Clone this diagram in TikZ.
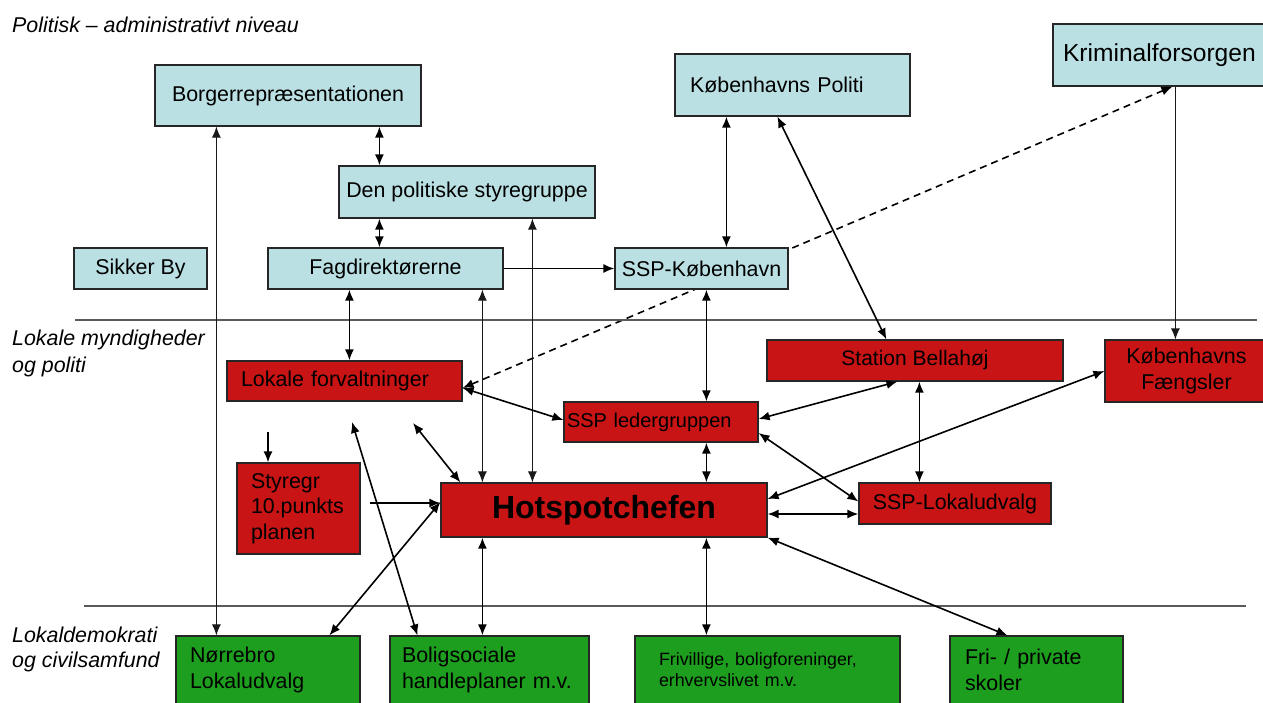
\documentclass[tikz,border=0pt]{standalone}
\usepackage{fontspec}
\setmainfont{Liberation Sans}
\usetikzlibrary{arrows.meta,backgrounds}
\definecolor{lblue}{RGB}{186,224,227}
\definecolor{rred}{RGB}{200,20,20}
\definecolor{ggreen}{RGB}{30,158,30}
\definecolor{sepgray}{RGB}{90,90,90}
\newcommand\fsn{\fontsize{21.4pt}{25.5pt}\selectfont}
\begin{document}
\begin{tikzpicture}[x=1pt,y=-1pt,
  >={Latex[length=11pt,width=9pt]},
  boxbase/.style={draw=black!85, line width=1.2pt, inner sep=0pt, font=\fsn, text=black},
  bbox/.style={boxbase, fill=lblue},
  rbox/.style={boxbase, fill=rred},
  gbox/.style={boxbase, fill=ggreen},
  conn/.style={line width=1.6pt},
  thinconn/.style={line width=1.1pt, draw=black!90},
  lbl/.style={inner sep=0pt, font=\fsn\itshape, align=left},
  sep/.style={line width=1.3pt, draw=sepgray}]
\useasboundingbox (0,0) rectangle (1263,702);

% separators
\draw[sep] (75,320) -- (1257,320);
\draw[sep] (84,606) -- (1246,606);

% labels
\node[lbl, anchor=west] (lab1) at (12,25) {Politisk – administrativt niveau};
\node[lbl, anchor=west, font=\fontsize{21.4pt}{27pt}\selectfont\itshape] (lab2) at (12,353.5) {Lokale myndigheder\\og politi};
\node[lbl, anchor=west] (lab3) at (12,649.5) {Lokaldemokrati\\og civilsamfund};

% blue boxes
\node[bbox, minimum width=266pt, minimum height=61pt] (borger) at (288,95.5) {Borgerrepræsentationen};
\node[bbox, minimum width=256pt, minimum height=52pt] (polstyr) at (467,192) {Den politiske styregruppe};
\node[bbox, minimum width=133pt, minimum height=41pt] (sikker) at (140.5,268.5) {Sikker By};
\node[bbox, minimum width=235pt, minimum height=41pt] (fagdir) at (385.5,268.5) {Fagdirektørerne};
\node[bbox, minimum width=173pt, minimum height=41pt] (sspkbh) at (701.5,268.5) {SSP-København};
\node[bbox, minimum width=235pt, minimum height=62pt, text width=205pt, inner xsep=15pt, align=left] (politi) at (792.5,85) {Københavns Politi};
\node[bbox, minimum width=222pt, minimum height=62pt, text width=202pt, inner xsep=10pt, align=left, font=\fontsize{24.6pt}{29pt}\selectfont] (krim) at (1164,55) {Kriminalforsorgen};

% red boxes
\node[rbox, minimum width=235pt, minimum height=40pt, text width=207pt, inner xsep=14pt, align=left] (lokforv) at (344.5,381) {Lokale forvaltninger};
\node[rbox, minimum width=194pt, minimum height=40pt, text width=188pt, inner xsep=3pt, align=left, font=\fontsize{20pt}{24pt}\selectfont] (sspled) at (661,422) {SSP ledergruppen};
\node[rbox, minimum width=296pt, minimum height=41pt, font=\fontsize{21pt}{25pt}\selectfont] (bella) at (915,360.5) {Station Bellahøj};
\node[rbox, minimum width=163pt, minimum height=62pt, align=center] (faeng) at (1186.5,371) {Københavns\\Fængsler};
\node[rbox, minimum width=192pt, minimum height=41pt] (sspludv) at (955,503.5) {SSP-Lokaludvalg};
\node[rbox, minimum width=326pt, minimum height=54pt, font=\fontsize{32pt}{38pt}\selectfont\bfseries] (hotspot) at (604,510) {Hotspotchefen};
\node[rbox, minimum width=123pt, minimum height=91pt, text width=95pt, inner xsep=14pt, align=left] (styregr) at (298.5,508.5) {Styregr\\10.punkts\\planen};

% green boxes
\node[gbox, minimum width=184pt, minimum height=68pt, text width=156pt, inner xsep=14pt, align=left] (noer) at (268,670) {Nørrebro\\Lokaludvalg};
\node[gbox, minimum width=199pt, minimum height=68pt, text width=175pt, inner xsep=12pt, align=left] (bolig) at (489.5,670) {Boligsociale\\handleplaner m.v.};
\node[gbox, minimum width=265pt, minimum height=68pt, text width=217pt, inner xsep=24pt, align=left, font=\fontsize{17.8pt}{21pt}\selectfont] (frivil) at (767.5,670) {Frivillige, boligforeninger,\\erhvervslivet m.v.};
\node[gbox, minimum width=173pt, minimum height=68pt, text width=143pt, inner xsep=15pt, align=left] (fri) at (1036.5,670) {Fri- / private\\skoler};

% dashed connector behind boxes
\begin{scope}[on background layer]
\draw[conn, dash pattern=on 7pt off 5pt, <->] ([yshift=-7pt]lokforv.east) -- ([xshift=120pt]krim.south west);
\end{scope}

% connectors
\draw[thinconn,<->] ([xshift=62pt]borger.south west) -- ([xshift=41pt]noer.north west);
\draw[conn,<->] ([xshift=225pt]borger.south west) -- ([xshift=41pt]polstyr.north west);
\draw[conn,<->] ([xshift=41pt]polstyr.south west) -- ([xshift=112pt]fagdir.north west);
\draw[conn,->] (fagdir.east) -- (sspkbh.west);
\draw[thinconn,<->] ([xshift=92pt]hotspot.north west) -- ([xshift=194pt]polstyr.south west);
\draw[thinconn,<->] ([xshift=215pt]fagdir.south west) -- ([xshift=42pt]hotspot.north west);
\draw[conn,<->] ([xshift=82pt]fagdir.south west) -- ([xshift=123pt]lokforv.north west);
\draw[conn,<->] ([xshift=52pt]politi.south west) -- ([xshift=112pt]sspkbh.north west);
\draw[conn,<->] ([xshift=103pt]politi.south west) -- ([xshift=120pt]bella.north west);
\draw[thinconn,->] ([xshift=123pt]krim.south west) -- ([xshift=71pt]faeng.north west);
\draw[conn,<->] ([xshift=92pt]sspkbh.south west) -- ([xshift=143pt]sspled.north west);
\draw[conn,<->] ([yshift=-7pt]lokforv.east) -- ([yshift=2pt]sspled.west);
\draw[conn,<->] ([yshift=3pt]sspled.east) -- ([xshift=131pt]bella.south west);
\draw[conn,<->] ([xshift=143pt]sspled.south west) -- ([xshift=266pt]hotspot.north west);
\draw[conn,<->] ([yshift=-11pt]sspled.east) -- ([yshift=2pt]sspludv.west);
\draw[conn,<->] ([xshift=153pt]bella.south west) -- ([xshift=61pt]sspludv.north west);
\draw[conn,<->] ([yshift=11pt]hotspot.east) -- (faeng.west);
\coordinate (h1) at ([yshift=-4pt]hotspot.east);
\draw[conn,<->] (h1) -- (h1 -| sspludv.west);
\draw[conn,<->] (hotspot.south east) -- ([xshift=58pt]fri.north west);
\draw[conn,<->] ([xshift=266pt]hotspot.south west) -- ([xshift=72pt]frivil.north west);
\draw[conn,<->] ([xshift=42pt]hotspot.south west) -- ([xshift=93pt]bolig.north west);
\draw[conn,<->] ([yshift=8pt]hotspot.west) -- ([xshift=154pt]noer.north west);
\coordinate (s1) at (370,503);
\draw[conn,->] (s1) -- (s1 -| hotspot.west);
\coordinate (s2) at (268,432);
\draw[conn,->] (s2) -- (s2 |- styregr.north);
\coordinate (s3) at (352,422);
\draw[conn,<->] (s3) -- ([xshift=28pt]bolig.north west);
\coordinate (s4) at (413,423);
\draw[conn,<->] (s4) -- ([xshift=20pt]hotspot.north west);
\end{tikzpicture}
\end{document}
